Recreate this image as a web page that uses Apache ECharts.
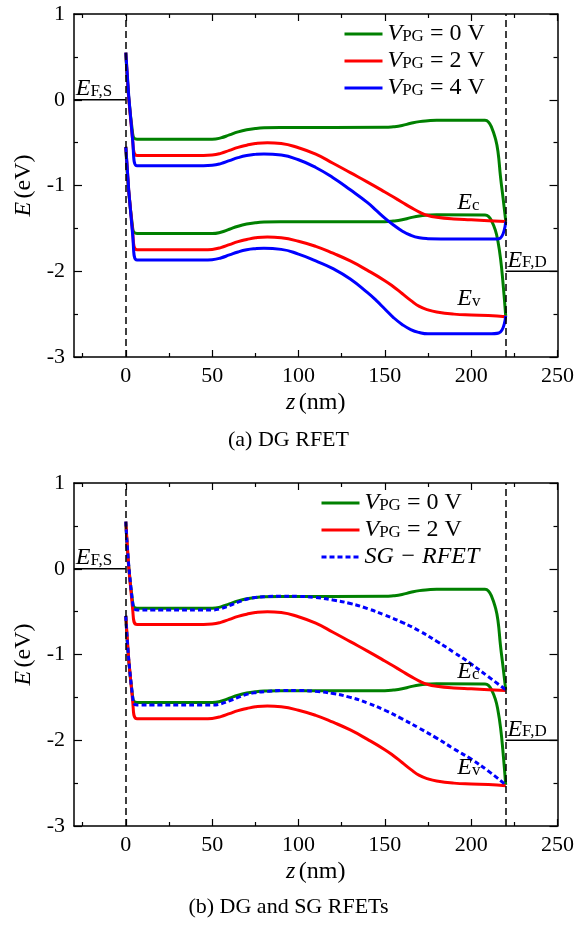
<!DOCTYPE html>
<html><head><meta charset="utf-8">
<script src="https://cdn.jsdelivr.net/npm/echarts@6/dist/echarts.min.js"></script>
<style>html,body{margin:0;padding:0;background:#fff}#c{width:577px;height:926px}</style>
</head><body><div id="c"></div>
<script>
// ---------- data ----------
const zLabelTicks = [0, 50, 100, 150, 200, 250];
const zMinorTicks = [-25, 25, 75, 125, 175, 225];
const zRange = [-30, 250];
const eRange = [-3, 1];
const contactPositions = [0, 220];
const fermiSource = [[-30, 0], [0, 0]];
const fermiDrain = [[220, -2], [250, -2]];

const greenCB = [[0,0.55],[4,-0.40],[6.5,-0.46],[50,-0.46],[55,-0.445],[60,-0.41],[65,-0.375],[70,-0.35],[75,-0.335],[80,-0.327],[90,-0.323],[150,-0.322],[155,-0.315],[160,-0.30],[165,-0.275],[170,-0.255],[175,-0.245],[180,-0.24],[208,-0.24],[210,-0.26],[212,-0.33],[214,-0.45],[215.5,-0.6],[217,-0.9],[218.5,-1.15],[220,-1.41]];
const greenVB = [[0,-0.55],[4,-1.50],[6.5,-1.56],[50,-1.56],[55,-1.545],[60,-1.51],[65,-1.475],[70,-1.45],[75,-1.435],[80,-1.427],[90,-1.423],[150,-1.422],[155,-1.415],[160,-1.40],[165,-1.375],[170,-1.355],[175,-1.345],[180,-1.34],[208,-1.345],[210,-1.36],[212,-1.42],[214,-1.52],[215.5,-1.65],[217,-1.85],[218.5,-2.15],[220,-2.52]];
const redCB = [[0,0.55],[4,-0.48],[6.5,-0.65],[45,-0.65],[50,-0.645],[55,-0.625],[60,-0.59],[65,-0.555],[70,-0.53],[75,-0.51],[82,-0.50],[90,-0.51],[100,-0.56],[110,-0.635],[120,-0.74],[130,-0.85],[140,-0.96],[150,-1.075],[155,-1.135],[160,-1.195],[165,-1.255],[170,-1.31],[175,-1.35],[180,-1.37],[190,-1.39],[200,-1.40],[210,-1.41],[220,-1.42]];
const redVB = [[0,-0.55],[4,-1.55],[6.5,-1.75],[45,-1.75],[50,-1.745],[55,-1.725],[60,-1.69],[65,-1.655],[70,-1.63],[75,-1.61],[82,-1.60],[90,-1.61],[100,-1.65],[110,-1.71],[120,-1.79],[130,-1.88],[140,-1.99],[150,-2.11],[155,-2.18],[160,-2.26],[165,-2.34],[170,-2.41],[175,-2.45],[180,-2.475],[190,-2.50],[200,-2.51],[210,-2.515],[220,-2.53]];
const blueCB = [[0,0.55],[4,-0.48],[6.5,-0.77],[45,-0.77],[50,-0.765],[55,-0.745],[60,-0.71],[65,-0.675],[70,-0.65],[75,-0.637],[80,-0.632],[90,-0.645],[100,-0.70],[110,-0.79],[120,-0.91],[130,-1.05],[140,-1.20],[145,-1.29],[150,-1.38],[155,-1.46],[160,-1.53],[165,-1.58],[170,-1.61],[175,-1.62],[190,-1.625],[210,-1.625],[216,-1.62],[220,-1.42]];
const blueVB = [[0,-0.55],[4,-1.58],[6.5,-1.87],[45,-1.87],[50,-1.865],[55,-1.845],[60,-1.81],[65,-1.775],[70,-1.75],[75,-1.737],[80,-1.732],[90,-1.745],[100,-1.80],[110,-1.88],[120,-1.97],[130,-2.09],[140,-2.25],[145,-2.34],[150,-2.44],[155,-2.54],[160,-2.62],[165,-2.68],[170,-2.715],[175,-2.73],[210,-2.73],[216,-2.72],[220,-2.52]];
const sgCB = [[0,0.55],[4,-0.40],[6.5,-0.48],[50,-0.48],[55,-0.465],[60,-0.43],[65,-0.39],[70,-0.355],[75,-0.335],[82,-0.325],[90,-0.32],[100,-0.322],[110,-0.335],[120,-0.365],[130,-0.405],[140,-0.465],[150,-0.54],[160,-0.625],[170,-0.725],[180,-0.845],[190,-0.975],[200,-1.11],[210,-1.26],[220,-1.41]];
const sgVB = [[0,-0.55],[4,-1.50],[6.5,-1.59],[50,-1.59],[55,-1.575],[60,-1.54],[65,-1.50],[70,-1.465],[75,-1.445],[82,-1.43],[90,-1.42],[100,-1.42],[110,-1.43],[120,-1.455],[130,-1.50],[140,-1.565],[150,-1.65],[160,-1.75],[170,-1.86],[180,-1.975],[190,-2.10],[200,-2.22],[210,-2.36],[220,-2.52]];

const legendNames = { g0: 'V_PG = 0 V', r2: 'V_PG = 2 V', b4: 'V_PG = 4 V', sg: 'SG − RFET' };
const captions = ['(a) DG RFET', '(b) DG and SG RFETs'];

// ---------- styling ----------
const FONT = 'Liberation Serif';
const GREEN = '#008000', RED = '#ff0000', BLUE = '#0000ff';
const grids = [
  { left: 74, top: 14, width: 485, height: 343 },
  { left: 74, top: 483, width: 485, height: 343 }
];
const richMath = {
  i: { fontFamily: FONT, fontStyle: 'italic', fontSize: 24, color: '#000', lineHeight: 22 },
  n: { fontFamily: FONT, fontSize: 24, color: '#000', lineHeight: 22 },
  s: { fontFamily: FONT, fontSize: 17, color: '#000', verticalAlign: 'bottom', lineHeight: 14 }
};

function legendFmt(name) {
  if (name === 'sg') return '{i|SG − RFET}';
  const v = legendNames[name].split('= ')[1];
  return '{i|V}{s|PG}{n| = ' + v + '}';
}

const xAxes = [], yAxes = [], series = [];
grids.forEach((g, gi) => {
  const base = { gridIndex: gi, type: 'value', min: zRange[0], max: zRange[1], splitLine: { show: false } };
  const line = (show) => ({ show, onZero: false, lineStyle: { color: '#000', width: 1.5 } });
  xAxes.push(Object.assign({}, base, {
    position: 'bottom', axisLine: line(true),
    axisTick: { inside: true, length: 7, customValues: zLabelTicks, lineStyle: { color: '#000', width: 1.2 } },
    axisLabel: { customValues: zLabelTicks, color: '#000', fontFamily: FONT, fontSize: 22, margin: 8 },
    name: '{i|z} {n|(nm)}', nameLocation: 'middle', nameGap: 35,
    nameTextStyle: { rich: richMath }
  }));
  xAxes.push(Object.assign({}, base, {
    position: 'top', axisLine: line(true),
    axisTick: { inside: true, length: 7, customValues: zLabelTicks, lineStyle: { color: '#000', width: 1.2 } },
    axisLabel: { show: false }
  }));
  xAxes.push(Object.assign({}, base, {
    position: 'bottom', axisLine: line(false),
    axisTick: { inside: true, length: 4, customValues: zMinorTicks, lineStyle: { color: '#000', width: 1.2 } },
    axisLabel: { show: false }
  }));
  xAxes.push(Object.assign({}, base, {
    position: 'top', axisLine: line(false),
    axisTick: { inside: true, length: 4, customValues: zMinorTicks, lineStyle: { color: '#000', width: 1.2 } },
    axisLabel: { show: false }
  }));
  const ybase = { gridIndex: gi, type: 'value', min: eRange[0], max: eRange[1], interval: 1, splitLine: { show: false },
    axisLine: line(true),
    axisTick: { inside: true, length: 8, lineStyle: { color: '#000', width: 1.2 } },
    minorTick: { show: true, splitNumber: 2, length: 4, lineStyle: { color: '#000', width: 1.2 } }
  };
  yAxes.push(Object.assign({}, ybase, {
    position: 'left',
    axisLabel: { color: '#000', fontFamily: FONT, fontSize: 22, margin: 9 },
    name: '{i|E} {n|(eV)}', nameLocation: 'middle', nameGap: 36,
    nameTextStyle: { rich: richMath }
  }));
  yAxes.push(Object.assign({}, ybase, { position: 'right', axisLabel: { show: false } }));

  const xi = gi * 4, yi = gi * 2;
  const mk = (name, data, color, dashed) => ({
    type: 'line', name, data, xAxisIndex: xi, yAxisIndex: yi, symbol: 'none', smooth: 0.5,
    lineStyle: { color, width: 3, type: dashed ? [5, 3] : 'solid' },
    itemStyle: { color }, z: 3
  });
  series.push({
    type: 'line', data: fermiSource, xAxisIndex: xi, yAxisIndex: yi, symbol: 'none',
    lineStyle: { color: '#000', width: 1.3 }, silent: true, z: 2,
    markLine: { silent: true, symbol: 'none', label: { show: false },
      lineStyle: { color: '#000', width: 1.5, type: [7, 4] },
      data: contactPositions.map(v => ({ xAxis: v })) }
  });
  series.push({ type: 'line', data: fermiDrain, xAxisIndex: xi, yAxisIndex: yi, symbol: 'none',
    lineStyle: { color: '#000', width: 1.3 }, silent: true, z: 2 });
  if (gi === 0) {
    series.push(mk('g0', greenCB, GREEN), mk('g0', greenVB, GREEN),
                mk('r2', redCB, RED), mk('r2', redVB, RED),
                mk('b4', blueCB, BLUE), mk('b4', blueVB, BLUE));
  } else {
    series.push(mk('g0', greenCB, GREEN), mk('g0', greenVB, GREEN),
                mk('r2', redCB, RED), mk('r2', redVB, RED),
                mk('sg', sgCB, BLUE, true), mk('sg', sgVB, BLUE, true));
  }
});

const legendBase = {
  orient: 'vertical', itemWidth: 38, itemHeight: 14, itemGap: 3,
  itemStyle: { opacity: 0 }, lineStyle: { width: 3 },
  formatter: legendFmt, textStyle: { rich: richMath }, selectedMode: false
};

const chart = echarts.init(document.getElementById('c'), null, { renderer: 'canvas' });
chart.setOption({
  animation: false,
  backgroundColor: '#fff',
  grid: grids,
  xAxis: xAxes,
  yAxis: yAxes,
  series,
  legend: [
    Object.assign({}, legendBase, { left: 338, top: 17, data: ['g0', 'r2', 'b4'] }),
    Object.assign({}, legendBase, { left: 315, top: 486, data: ['g0', 'r2', 'sg'] })
  ],
  title: [
    { text: captions[0], left: 'center', top: 424, textStyle: { fontFamily: FONT, fontWeight: 'normal', fontSize: 22, color: '#000' } },
    { text: captions[1], left: 'center', top: 891, textStyle: { fontFamily: FONT, fontWeight: 'normal', fontSize: 22, color: '#000' } }
  ]
});

// annotations anchored in data coordinates
const annotations = [
  { text: '{i|E}{s|F,S}', z: -29, E: 0.0 },
  { text: '{i|E}{s|c}', z: 192, E: -1.33 },
  { text: '{i|E}{s|v}', z: 192, E: -2.45 },
  { text: '{i|E}{s|F,D}', z: 221, E: -2.0 }
];
const graphic = [];
[0, 1].forEach(gi => {
  annotations.forEach(a => {
    const p = chart.convertToPixel({ xAxisIndex: gi * 4, yAxisIndex: gi * 2 }, [a.z, a.E]);
    graphic.push({ type: 'text', x: p[0], y: p[1], z: 10,
      style: { text: a.text, rich: richMath, textAlign: 'left', textVerticalAlign: 'bottom' } });
  });
});
chart.setOption({ graphic });
</script>
</body></html>
